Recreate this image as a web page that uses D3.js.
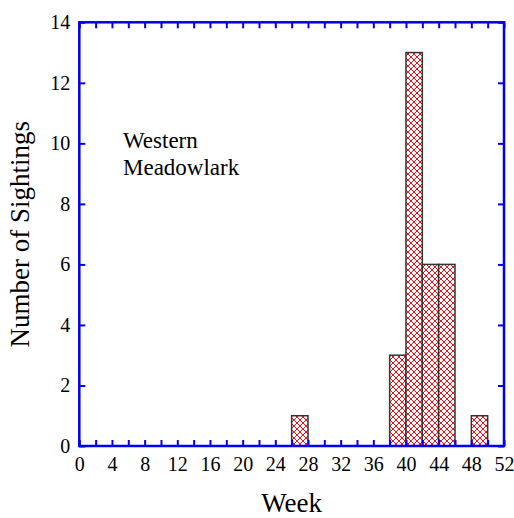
<!DOCTYPE html>
<html>
<head>
<meta charset="utf-8">
<script src="https://cdn.jsdelivr.net/npm/d3@7"></script>
<style>
  body { margin: 0; background: #fff; }
  text { font-family: "Liberation Serif", "Times New Roman", serif; fill: #000; }
</style>
</head>
<body>
<svg id="chart" width="514" height="518"></svg>
<script>
// histogram bins (start week, 2-week wide)
const binStart = [26, 38, 40, 42, 44, 48];
const sightings = [1, 3, 13, 6, 6, 1];
const binWidth = 2;
const xTicks = d3.range(0, 53, 2);
const yTicks = d3.range(0, 15, 2);
const speciesLabel = ["Western", "Meadowlark"];

const Opts = {
    left: 79.3, right: 504, top: 22.3, bottom: 446,
    axisColor: '#0000ee'
};

const svg = d3.select('#chart');

const x = d3.scaleLinear().domain([0, 52]).range([Opts.left, Opts.right]);
const y = d3.scaleLinear().domain([0, 14]).range([Opts.bottom, Opts.top]);

// crosshatch fill
const pat = svg.append('defs').append('pattern')
    .attr('id', 'hatch')
    .attr('patternUnits', 'userSpaceOnUse')
    .attr('width', 6)
    .attr('height', 6);
pat.append('rect').attr('width', 6).attr('height', 6).attr('fill', '#fff');
pat.append('path')
    .attr('d', 'M0,0L6,6M6,0L0,6')
    .attr('stroke', '#e8141c')
    .attr('stroke-width', 1)
    .attr('fill', 'none');

svg.append('g').selectAll('rect')
    .data(binStart)
    .enter()
    .append('rect')
    .attr('x', function(d) { return x(d); })
    .attr('width', function(d) { return x(d + binWidth) - x(d); })
    .attr('y', function(d, i) { return y(sightings[i]); })
    .attr('height', function(d, i) { return y(0) - y(sightings[i]); })
    .attr('fill', 'url(#hatch)')
    .attr('stroke', '#333')
    .attr('stroke-width', 1.5);

function styleAxis(g) {
    g.select('.domain').remove();
    g.selectAll('line').attr('stroke', Opts.axisColor).attr('stroke-width', 2);
    g.selectAll('text').attr('font-size', 20).attr('fill', '#000');
}

svg.append('g')
    .attr('transform', 'translate(0,' + Opts.bottom + ')')
    .call(d3.axisBottom(x).tickValues(xTicks).tickSize(-6).tickPadding(11)
        .tickFormat(function(d) { return d % 4 === 0 ? d : ''; }))
    .call(styleAxis);

svg.append('g')
    .attr('transform', 'translate(0,' + Opts.top + ')')
    .call(d3.axisTop(x).tickValues(xTicks).tickSize(-6).tickFormat(''))
    .call(styleAxis);

svg.append('g')
    .attr('transform', 'translate(' + Opts.left + ',0)')
    .call(d3.axisLeft(y).tickValues(yTicks).tickSize(-6).tickPadding(9))
    .call(styleAxis);

svg.append('g')
    .attr('transform', 'translate(' + Opts.right + ',0)')
    .call(d3.axisRight(y).tickValues(yTicks).tickSize(-6).tickFormat(''))
    .call(styleAxis);

// frame
svg.append('rect')
    .attr('x', Opts.left)
    .attr('y', Opts.top)
    .attr('width', Opts.right - Opts.left)
    .attr('height', Opts.bottom - Opts.top)
    .attr('fill', 'none')
    .attr('stroke', Opts.axisColor)
    .attr('stroke-width', 2.5);

svg.append('text')
    .attr('x', (Opts.left + Opts.right) / 2)
    .attr('y', 512)
    .attr('text-anchor', 'middle')
    .attr('font-size', 27)
    .text('Week');

svg.append('text')
    .attr('transform', 'translate(29,' + (Opts.top + Opts.bottom) / 2 + ') rotate(-90)')
    .attr('text-anchor', 'middle')
    .attr('font-size', 27)
    .text('Number of Sightings');

svg.append('g').selectAll('text')
    .data(speciesLabel)
    .enter()
    .append('text')
    .attr('x', 123)
    .attr('y', function(d, i) { return 148 + 27 * i; })
    .attr('font-size', 23)
    .text(function(d) { return d; });
</script>
</body>
</html>
